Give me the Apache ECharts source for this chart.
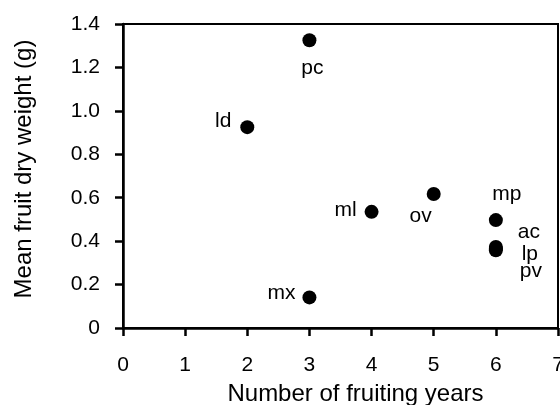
<!DOCTYPE html>
<html>
<head>
<meta charset="utf-8">
<script src="https://cdn.jsdelivr.net/npm/echarts@6/dist/echarts.min.js"></script>
<style>
  html, body { margin: 0; padding: 0; background: #fff; }
  #chart { width: 560px; height: 405px; }
</style>
</head>
<body>
<div id="chart"></div>
<script>
// species codes, fruiting years and mean fruit dry weight (g)
const species = ['pc', 'ld', 'ml', 'ov', 'mp', 'ac', 'lp', 'pv', 'mx'];
const fruitingYears = [3, 2, 4, 5, 6, 6, 6, 6, 3];
const dryWeight = [1.325, 0.925, 0.535, 0.617, 0.497, 0.373, 0.365, 0.358, 0.141];

const xTicks = [0, 1, 2, 3, 4, 5, 6, 7];
const yTicks = [0, 0.2, 0.4, 0.6, 0.8, 1.0, 1.2, 1.4];

// where each code label sits relative to its dot (px)
const labelOffsets = {
  pc: [3, 28], ld: [-24, -6], ml: [-26, -2], ov: [-13, 22], mp: [11, -26],
  ac: [33, -15], lp: [34, 5], pv: [35, 21], mx: [-28, -4]
};

const font = '"Liberation Sans", Arial, Helvetica, sans-serif';

const points = species.map((s, i) => ({
  name: s,
  value: [fruitingYears[i], dryWeight[i]],
  label: { offset: labelOffsets[s] }
}));

const chart = echarts.init(document.getElementById('chart'), null, { renderer: 'canvas' });

chart.setOption({
  animation: false,
  grid: {
    left: 123, right: 2, top: 24, bottom: 77,
    containLabel: false,
    outerBoundsMode: 'none',
    show: true,
    borderColor: '#000',
    borderWidth: 2
  },
  xAxis: {
    type: 'value',
    min: xTicks[0],
    max: xTicks[xTicks.length - 1],
    interval: 1,
    name: 'Number of fruiting years',
    nameLocation: 'middle',
    nameGap: 54,
    nameMoveOverlap: false,
    nameTextStyle: { fontFamily: font, fontSize: 24, color: '#000', padding: [0, 0, 0, 30] },
    axisLine: { lineStyle: { color: '#000', width: 2.5 } },
    axisTick: { length: 8, lineStyle: { color: '#000', width: 2.5 } },
    axisLabel: { fontFamily: font, fontSize: 21, color: '#000', margin: 27 },
    splitLine: { show: false }
  },
  yAxis: {
    type: 'value',
    min: yTicks[0],
    max: yTicks[yTicks.length - 1],
    interval: 0.2,
    name: 'Mean fruit dry weight (g)',
    nameLocation: 'middle',
    nameRotate: 90,
    nameGap: 87,
    nameMoveOverlap: false,
    nameTextStyle: { fontFamily: font, fontSize: 24, color: '#000', padding: [0, 0, 0, 14] },
    axisLine: { lineStyle: { color: '#000', width: 2.5 } },
    axisTick: { length: 8, lineStyle: { color: '#000', width: 2.5 } },
    axisLabel: {
      fontFamily: font, fontSize: 21, color: '#000', margin: 23,
      formatter: v => (v === 0 ? '0' : v.toFixed(1))
    },
    splitLine: { show: false }
  },
  series: [{
    type: 'scatter',
    symbol: 'circle',
    symbolSize: 14,
    itemStyle: { color: '#000', opacity: 1 },
    label: {
      show: true,
      position: 'inside',
      formatter: '{b}',
      fontFamily: font,
      fontSize: 21,
      color: '#000',
      textBorderWidth: 0,
      align: 'center',
      verticalAlign: 'middle'
    },
    emphasis: { disabled: true },
    data: points
  }]
});
</script>
</body>
</html>
